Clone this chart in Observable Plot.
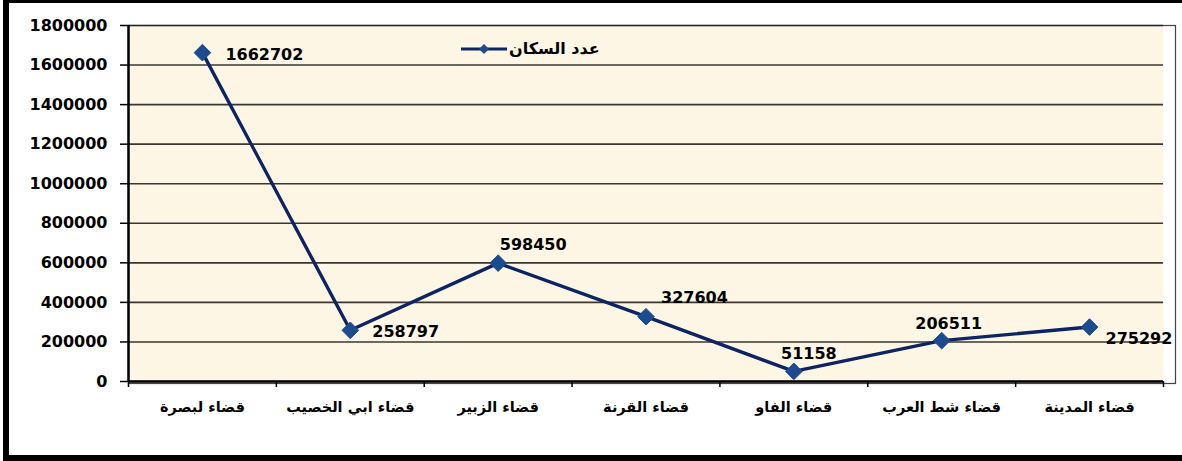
<!DOCTYPE html>
<html>
<head>
<meta charset="utf-8">
<script src="https://cdn.jsdelivr.net/npm/d3@7"></script>
<script src="https://cdn.jsdelivr.net/npm/@observablehq/plot@0.6"></script>
<style>
  html, body { margin: 0; padding: 0; background: #fff; }
  #wrap { position: relative; width: 1182px; height: 461px; overflow: hidden; }
  #border { position: absolute; left: 3px; top: 0; width: 1179px; height: 461px;
            border-top: 3px solid #000; border-left: 6px solid #000; border-bottom: 6px solid #000;
            box-sizing: border-box; pointer-events: none; }
  #legend { position: absolute; left: 460px; top: 39px; display: flex; align-items: center;
            font-family: "DejaVu Sans", sans-serif; font-size: 16px; font-weight: bold; color: #000; direction: ltr; }
  #legend span { direction: rtl; }
  svg text { font-family: "DejaVu Sans", sans-serif; }
</style>
</head>
<body>
<div id="wrap">
  <div id="chart"></div>
  <div id="legend"></div>
  <div id="border"></div>
</div>
<script>
const categories = ["قضاء لبصرة", "قضاء ابي الخصيب", "قضاء الزبير", "قضاء القرنة", "قضاء الفاو", "قضاء شط العرب", "قضاء المدينة"];
const population = [1662702, 258797, 598450, 327604, 51158, 206511, 275292];
const seriesName = "عدد السكان";
const yTicks = [0, 200000, 400000, 600000, 800000, 1000000, 1200000, 1400000, 1600000, 1800000];

const data = categories.map((c, i) => ({i, name: c, value: population[i]}));
const boundaries = d3.range(categories.length + 1).map(i => i - 0.5);

const lineColor = "#0c2463";
const markColor = "#1d4b8f";
const labelFont = {fontSize: 16, fontWeight: "bold", fill: "#000"};

function lab(idx, opts) {
  return Plot.text(data.filter(d => d.i === idx), {x: "i", y: "value", text: d => String(d.value), ...labelFont, ...opts});
}

const chart = Plot.plot({
  width: 1182,
  height: 461,
  marginLeft: 128,
  marginRight: 19,
  marginTop: 25,
  marginBottom: 80,
  style: {background: "transparent", overflow: "visible"},
  x: {type: "linear", domain: [-0.5, categories.length - 0.5], axis: null, label: null},
  y: {type: "linear", domain: [0, 1800000], axis: null, label: null},
  marks: [
    Plot.frame({fill: "#fdf6e4", stroke: null}),
    Plot.frame({stroke: "#444", strokeWidth: 1.2, insetRight: -12, insetBottom: -2}),
    Plot.gridY(yTicks, {stroke: "#222", strokeOpacity: 0.9, strokeWidth: 1.6}),
    Plot.axisY(yTicks, {label: null, tickSize: 8, tickPadding: 13, tickFormat: d => String(d), fontSize: 16, fontWeight: "bold", stroke: "#000", strokeWidth: 1.5}),
    Plot.ruleX([-0.5], {stroke: "#000", strokeWidth: 2.5}),
    Plot.ruleY([0], {stroke: "#000", strokeWidth: 2.5}),
    Plot.axisX(boundaries, {label: null, tickSize: 6, tickFormat: () => "", stroke: "#000", strokeWidth: 1.5}),
    Plot.text(data, {x: "i", y: 0, text: "name", dy: 26, fontSize: 14.5, fontWeight: "bold", fill: "#000"}),
    Plot.line(data, {x: "i", y: "value", stroke: lineColor, strokeWidth: 3.4}),
    Plot.dot(data, {x: "i", y: "value", symbol: "diamond2", r: 7.5, fill: markColor, stroke: markColor, strokeWidth: 1}),
    lab(0, {textAnchor: "start", dx: 23, dy: 2}),
    lab(1, {textAnchor: "start", dx: 22, dy: 2}),
    lab(2, {textAnchor: "middle", dx: 35, dy: -18}),
    lab(3, {textAnchor: "start", dx: 15, dy: -19}),
    lab(4, {textAnchor: "middle", dx: 15, dy: -18}),
    lab(5, {textAnchor: "middle", dx: 7, dy: -17}),
    lab(6, {textAnchor: "start", dx: 16, dy: 12})
  ]
});
document.getElementById("chart").appendChild(chart);

const legend = document.getElementById("legend");
legend.innerHTML = `<svg width="48" height="14"><line x1="1" y1="7" x2="47" y2="7" stroke="${lineColor}" stroke-width="3.2"/><path d="M24,2 L29,7 L24,12 L19,7 Z" fill="${markColor}"/></svg><span style="margin-left:1px">${seriesName}</span>`;
</script>
</body>
</html>
